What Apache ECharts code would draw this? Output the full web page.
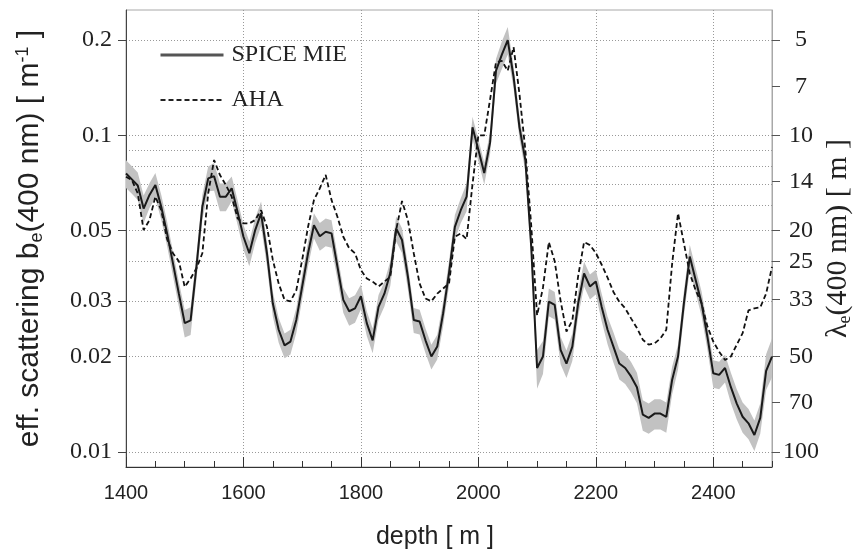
<!DOCTYPE html>
<html>
<head>
<meta charset="utf-8">
<script src="https://cdn.jsdelivr.net/npm/echarts@6/dist/echarts.min.js"></script>
<style>
  html, body { margin: 0; padding: 0; background: #fff; }
  #chart { width: 856px; height: 556px; }
</style>
</head>
<body>
<div id="chart"></div>
<script>
// depth grid [m]
const depth = [
  1400, 1410, 1420, 1430, 1440, 1450, 1460, 1470, 1480, 1490,
  1500, 1510, 1520, 1530, 1540, 1550, 1560, 1570, 1580, 1590,
  1600, 1610, 1620, 1630, 1640, 1650, 1660, 1670, 1680, 1690,
  1700, 1710, 1720, 1730, 1740, 1750, 1760, 1770, 1780, 1790,
  1800, 1810, 1820, 1830, 1840, 1850, 1860, 1870, 1880, 1890,
  1900, 1910, 1920, 1930, 1940, 1950, 1960, 1970, 1980, 1990,
  2000, 2010, 2020, 2030, 2040, 2050, 2060, 2070, 2080, 2090,
  2100, 2110, 2120, 2130, 2140, 2150, 2160, 2170, 2180, 2190,
  2200, 2210, 2220, 2230, 2240, 2250, 2260, 2270, 2280, 2290,
  2300, 2310, 2320, 2330, 2340, 2350, 2360, 2370, 2380, 2390,
  2400, 2410, 2420, 2430, 2440, 2450, 2460, 2470, 2480, 2490,
  2500
];

// SPICE MIE effective scattering b_e(400 nm) [1/m]
const spice = [
  0.0758, 0.0726, 0.0694, 0.0587, 0.0648, 0.0697, 0.0595, 0.049, 0.0394, 0.0316,
  0.0255, 0.026, 0.0385, 0.0595, 0.0731, 0.0743, 0.064, 0.064, 0.068, 0.0573,
  0.0478, 0.0424, 0.0502, 0.0567, 0.0424, 0.0294, 0.0243, 0.0217, 0.0223, 0.0261,
  0.0333, 0.0424, 0.052, 0.048, 0.0496, 0.049, 0.0385, 0.0302, 0.0278, 0.0284,
  0.031, 0.0255, 0.0225, 0.0287, 0.0316, 0.0367, 0.0508, 0.0467, 0.0358, 0.0261,
  0.0258, 0.0225, 0.02, 0.0215, 0.0274, 0.0367, 0.0514, 0.058, 0.064, 0.106,
  0.09, 0.076, 0.095, 0.16, 0.18, 0.2, 0.153, 0.106, 0.0836, 0.0445,
  0.0184, 0.02, 0.0298, 0.0291, 0.021, 0.019, 0.0215, 0.0295, 0.0366, 0.0333,
  0.0345, 0.0287, 0.0243, 0.0215, 0.019, 0.0184, 0.0173, 0.016, 0.0131, 0.0128,
  0.0132, 0.0132, 0.0129, 0.0169, 0.02, 0.0295, 0.0414, 0.0349, 0.0295, 0.0231,
  0.0177, 0.0175, 0.0184, 0.016, 0.0142, 0.0129, 0.0123, 0.0113, 0.0128, 0.018,
  0.02
];

// relative half-width of the grey SPICE uncertainty band
const spiceErr = [
  0.10, 0.10, 0.10, 0.10, 0.09, 0.09, 0.09, 0.09, 0.09, 0.09,
  0.10, 0.10, 0.09, 0.09, 0.09, 0.10, 0.10, 0.10, 0.09, 0.09,
  0.09, 0.09, 0.09, 0.09, 0.09, 0.09, 0.09, 0.09, 0.09, 0.09,
  0.09, 0.09, 0.09, 0.10, 0.10, 0.10, 0.09, 0.09, 0.10, 0.10,
  0.09, 0.09, 0.09, 0.09, 0.09, 0.09, 0.09, 0.09, 0.09, 0.09,
  0.09, 0.09, 0.09, 0.09, 0.09, 0.09, 0.09, 0.09, 0.10, 0.08,
  0.08, 0.08, 0.08, 0.09, 0.10, 0.10, 0.08, 0.08, 0.08, 0.08,
  0.14, 0.12, 0.10, 0.10, 0.10, 0.10, 0.10, 0.09, 0.09, 0.09,
  0.09, 0.10, 0.10, 0.11, 0.11, 0.11, 0.11, 0.11, 0.11, 0.11,
  0.11, 0.11, 0.11, 0.10, 0.09, 0.09, 0.09, 0.09, 0.09, 0.09,
  0.10, 0.10, 0.10, 0.11, 0.11, 0.11, 0.11, 0.11, 0.11, 0.13,
  0.14
];

// AHA model
const aha = [
  0.074, 0.0722, 0.0656, 0.0502, 0.054, 0.064, 0.058, 0.047, 0.0424, 0.040,
  0.0332, 0.0353, 0.038, 0.0424, 0.0656, 0.0836, 0.0749, 0.0697, 0.064, 0.0547,
  0.0527, 0.0527, 0.054, 0.058, 0.0514, 0.0404, 0.034, 0.0302, 0.0299, 0.0324,
  0.0404, 0.0514, 0.0624, 0.068, 0.075, 0.0624, 0.0553, 0.0478, 0.044, 0.0424,
  0.0375, 0.0353, 0.0345, 0.0333, 0.0345, 0.0357, 0.0502, 0.062, 0.054, 0.0424,
  0.034, 0.0305, 0.0299, 0.0316, 0.0328, 0.034, 0.0478, 0.049, 0.047, 0.07,
  0.1, 0.1, 0.13, 0.17, 0.172, 0.16, 0.19, 0.135, 0.09, 0.052,
  0.027, 0.033, 0.046, 0.04, 0.03, 0.024, 0.026, 0.036, 0.046, 0.045,
  0.0425, 0.039, 0.0355, 0.032, 0.0298, 0.0284, 0.0264, 0.0246, 0.0226, 0.0218,
  0.022, 0.0228, 0.0243, 0.0394, 0.0567, 0.0456, 0.0366, 0.0324, 0.0295, 0.0249,
  0.0223, 0.0207, 0.0195, 0.02, 0.0218, 0.0237, 0.028, 0.0284, 0.0286, 0.0316,
  0.0384
];

const bTicks = [0.01, 0.02, 0.03, 0.05, 0.1, 0.2];
const bGrid = [0.01, 0.02, 0.03, 0.04, 0.05, 0.06, 0.07, 0.08, 0.09, 0.1, 0.2];
const lambdaTicks = [5, 7, 10, 14, 20, 25, 33, 50, 70, 100];

const Y_MIN = 0.00895, Y_MAX = 0.249;
const SANS = 'Liberation Sans';
const SERIF = 'Liberation Serif';

const chart = echarts.init(document.getElementById('chart'));

const bandLow = spice.map((v, i) => v * (1 - spiceErr[i]));
const bandHigh = spice.map((v, i) => v * (1 + spiceErr[i]));

function logAxis(extra) {
  return Object.assign({
    type: 'log',
    min: Y_MIN,
    max: Y_MAX,
    logBase: 10
  }, extra);
}

function renderBand(params, api) {
  const pts = [];
  for (let i = 0; i < depth.length; i++) pts.push(api.coord([depth[i], bandHigh[i]]));
  for (let i = depth.length - 1; i >= 0; i--) pts.push(api.coord([depth[i], bandLow[i]]));
  return {
    type: 'polygon',
    shape: { points: pts },
    style: { fill: '#c2c2c2', stroke: null }
  };
}

const option = {
  animation: false,
  backgroundColor: '#fff',
  grid: {
    left: 126, right: 84, top: 10, bottom: 89,
    outerBoundsMode: 'none',
    containLabel: false,
    show: true, borderColor: '#a8a8a8', borderWidth: 1
  },
  legend: {
    data: [
      { name: 'SPICE MIE', itemStyle: { opacity: 0 }, lineStyle: { color: '#555', width: 3 } },
      { name: 'AHA', itemStyle: { opacity: 0 }, lineStyle: { color: '#222', width: 1.8, type: [5, 3] } }
    ],
    orient: 'vertical',
    left: 159, top: 42,
    padding: 0,
    itemWidth: 63, itemHeight: 14, itemGap: 19,
    textStyle: { fontFamily: SERIF, fontSize: 24, color: '#222', lineHeight: 26, padding: [0, 0, 0, 3] }
  },
  xAxis: [{
    type: 'value',
    min: 1400, max: 2500, interval: 200,
    name: 'depth [ m ]',
    nameLocation: 'middle',
    nameGap: 58,
    nameMoveOverlap: false,
    nameTextStyle: { fontFamily: SANS, fontSize: 25, color: '#222', padding: [0, 28, 0, 0] },
    axisLine: { lineStyle: { color: '#333', width: 1 } },
    axisTick: { inside: true, length: 10, lineStyle: { color: '#333' } },
    axisLabel: {
      fontFamily: SANS, fontSize: 20, color: '#222', margin: 16, showMaxLabel: false,
      formatter: v => String(v)
    },
    splitLine: { show: true, lineStyle: { color: '#999', type: [1, 2], width: 1 } }
  }, {
    type: 'value',
    min: 1400, max: 2500, interval: 50,
    position: 'bottom',
    axisLine: { show: false },
    axisTick: { inside: true, length: 6, lineStyle: { color: '#333' } },
    axisLabel: { show: false },
    splitLine: { show: false }
  }],
  yAxis: [
    logAxis({
      position: 'left',
      name: '{t|eff. scattering b}{sub|e}{t|(400 nm) [ m}{sup|-1}{t| ]}',
      nameLocation: 'middle',
      nameRotate: 90,
      nameGap: 80,
      nameMoveOverlap: false,
      nameTextStyle: {
        fontFamily: SANS, fontSize: 30, color: '#222',
        rich: {
          t: { fontFamily: SANS, fontSize: 30, color: '#222', lineHeight: 32 },
          sub: { fontFamily: SANS, fontSize: 18, color: '#222', verticalAlign: 'bottom', lineHeight: 18 },
          sup: { fontFamily: SANS, fontSize: 18, color: '#222', verticalAlign: 'top', lineHeight: 18 }
        }
      },
      axisLine: { show: true, lineStyle: { color: '#444' } },
      axisTick: { show: true, length: 8, customValues: bTicks, lineStyle: { color: '#444' } },
      axisLabel: {
        customValues: bTicks,
        fontFamily: SERIF, fontSize: 24, color: '#222', margin: 14,
        formatter: v => String(+(+v).toPrecision(3))
      },
      splitLine: { show: false }
    }),
    logAxis({
      position: 'right',
      name: '{t|λ}{sub|e}{t|(400 nm) [ m ]}',
      nameLocation: 'middle',
      nameRotate: 90,
      nameGap: 50,
      nameMoveOverlap: false,
      nameTextStyle: {
        fontFamily: SERIF, fontSize: 30, color: '#222',
        rich: {
          t: { fontFamily: SERIF, fontSize: 30, color: '#222', lineHeight: 32 },
          sub: { fontFamily: SERIF, fontSize: 18, color: '#222', verticalAlign: 'bottom', lineHeight: 18 }
        }
      },
      axisLine: { show: true, lineStyle: { color: '#a8a8a8' } },
      axisTick: { show: true, length: 8, customValues: lambdaTicks.map(l => 1 / l), lineStyle: { color: '#555' } },
      axisLabel: {
        customValues: lambdaTicks.map(l => 1 / l),
        fontFamily: SERIF, fontSize: 24, color: '#222', margin: 29, align: 'center',
        formatter: v => String(Math.round(1 / v))
      },
      splitLine: { show: false }
    }),
    logAxis({
      position: 'left',
      axisLine: { show: false },
      axisTick: { show: false, customValues: bGrid },
      axisLabel: { show: false, customValues: bGrid },
      splitLine: { show: true, lineStyle: { color: '#999', type: [1, 2], width: 1 } }
    })
  ],
  series: [
    {
      name: 'band',
      type: 'custom',
      data: [[depth[0], spice[0]]],
      renderItem: renderBand,
      silent: true,
      clip: true,
      z: 1
    },
    {
      name: 'AHA',
      type: 'line',
      data: aha.map((v, i) => [depth[i], v]),
      symbol: 'none',
      lineStyle: { color: '#111', width: 1.8, type: [5, 3] },
      itemStyle: { color: '#111' },
      z: 3
    },
    {
      name: 'SPICE MIE',
      type: 'line',
      data: spice.map((v, i) => [depth[i], v]),
      symbol: 'none',
      lineStyle: { color: '#1a1a1a', width: 2 },
      itemStyle: { color: '#555' },
      z: 4
    }
  ]
};

chart.setOption(option);
</script>
</body>
</html>
